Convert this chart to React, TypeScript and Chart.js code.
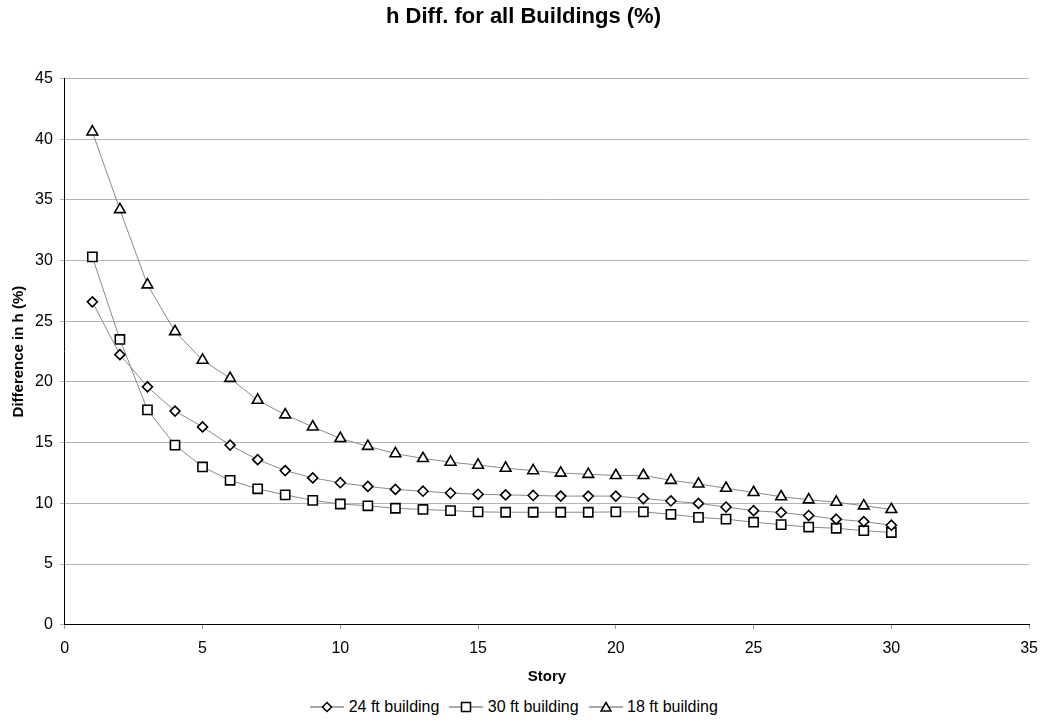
import React, { useEffect, useRef } from "react";
import { Chart, registerables } from "chart.js";

Chart.register(...registerables);

const stories = [1,2,3,4,5,6,7,8,9,10,11,12,13,14,15,16,17,18,19,20,21,22,23,24,25,26,27,28,29,30];
const ft24 = [26.6,22.25,19.6,17.6,16.3,14.8,13.6,12.7,12.1,11.7,11.4,11.15,11.0,10.85,10.75,10.7,10.65,10.6,10.6,10.6,10.4,10.2,10.0,9.7,9.4,9.25,9.0,8.7,8.5,8.2];
const ft30 = [30.3,23.5,17.7,14.8,13.0,11.9,11.2,10.7,10.25,9.95,9.8,9.6,9.5,9.4,9.3,9.27,9.27,9.27,9.27,9.3,9.3,9.1,8.85,8.7,8.45,8.25,8.05,7.95,7.75,7.6];
const ft18 = [40.6,34.2,28.0,24.15,21.8,20.3,18.5,17.3,16.3,15.35,14.7,14.1,13.7,13.4,13.15,12.9,12.7,12.5,12.4,12.3,12.3,11.9,11.6,11.25,10.9,10.55,10.3,10.1,9.8,9.5];
const seriesNames = ["24 ft building", "30 ft building", "18 ft building"];
const xTicks = [0,5,10,15,20,25,30,35];

const FONT = "Arial, 'Liberation Sans', sans-serif";

function Marker({ kind }: { kind: string }) {
  return (
    <svg width="34" height="14" style={{ verticalAlign: "middle" }}>
      <line x1="0" y1="7" x2="34" y2="7" stroke="#555" strokeWidth="1" />
      {kind === "diamond" && <polygon points="17,2.5 21.5,7 17,11.5 12.5,7" fill="#fff" stroke="#000" strokeWidth="1.5" />}
      {kind === "square" && <rect x="12.5" y="2.5" width="9" height="9" fill="#fff" stroke="#000" strokeWidth="1.5" />}
      {kind === "triangle" && <polygon points="17,2.5 22,11 12,11" fill="#fff" stroke="#000" strokeWidth="1.5" />}
    </svg>
  );
}

export default function App() {
  const ref = useRef<HTMLCanvasElement | null>(null);
  useEffect(() => {
    if (!ref.current) return;
    const mk = (vals: number[]) => stories.map((s, i) => ({ x: s, y: vals[i] }));
    const common = {
      showLine: true,
      borderColor: "#8a8a8a",
      borderWidth: 1,
      pointBackgroundColor: "#fff",
      pointBorderColor: "#000",
      pointBorderWidth: 1.6,
      fill: false,
    };
    const chart = new Chart(ref.current, {
      type: "scatter",
      data: {
        datasets: [
          { ...common, label: seriesNames[0], data: mk(ft24), pointStyle: "rectRot", pointRadius: 5 },
          { ...common, label: seriesNames[1], data: mk(ft30), pointStyle: "rect", pointRadius: 6.5 },
          { ...common, label: seriesNames[2], data: mk(ft18), pointStyle: "triangle", pointRadius: 6.2 },
        ],
      },
      options: {
        animation: false,
        responsive: false,
        layout: { padding: { left: 10, right: 11, top: 0, bottom: 0 } },
        plugins: {
          legend: { display: false },
          tooltip: { enabled: false },
          title: {
            display: true,
            text: "h Diff. for all Buildings (%)",
            color: "#000",
            font: { family: FONT, size: 22, weight: "bold" },
            padding: { top: 4, bottom: 48 },
          },
        },
        scales: {
          x: {
            type: "linear",
            min: 0,
            max: 35,
            afterBuildTicks: (axis: any) => { axis.ticks = xTicks.map((v) => ({ value: v })); },
            grid: { display: true, drawOnChartArea: false, color: "#999", tickLength: 4 },
            border: { display: true, color: "#000", width: 1 },
            ticks: { color: "#000", font: { family: FONT, size: 16 }, padding: 10, maxRotation: 0 },
            title: { display: true, text: "Story", color: "#000", font: { family: FONT, size: 15, weight: "bold" }, padding: { top: 0, bottom: 2 } },
          },
          y: {
            min: 0,
            max: 45,
            ticks: { stepSize: 5, color: "#000", font: { family: FONT, size: 16 }, padding: 7 },
            grid: { color: "#b4b4b4", lineWidth: 1, tickLength: 5 },
            border: { display: true, color: "#000", width: 1 },
            title: { display: true, text: "Difference in h (%)", color: "#000", font: { family: FONT, size: 15, weight: "bold" }, padding: { top: 0, bottom: 0 } },
          },
        },
      },
    } as any);
    return () => chart.destroy();
  }, []);

  const kinds = ["diamond", "square", "triangle"];
  return (
    <div style={{ position: "absolute", left: 0, top: 0, width: 1048, height: 722, background: "#fff" }}>
      <canvas ref={ref} width={1048} height={688} style={{ display: "block" }} />
      <div
        style={{
          position: "absolute",
          top: 696,
          left: -10,
          width: 1048,
          textAlign: "center",
          fontFamily: FONT,
          fontSize: 16,
          lineHeight: "20px",
          color: "#000",
        }}
      >
        {seriesNames.map((n, i) => (
          <span key={n} style={{ marginRight: i < 2 ? 10 : 0, whiteSpace: "nowrap" }}>
            <Marker kind={kinds[i]} /> <span style={{ verticalAlign: "middle" }}>{n}</span>
          </span>
        ))}
      </div>
    </div>
  );
}
